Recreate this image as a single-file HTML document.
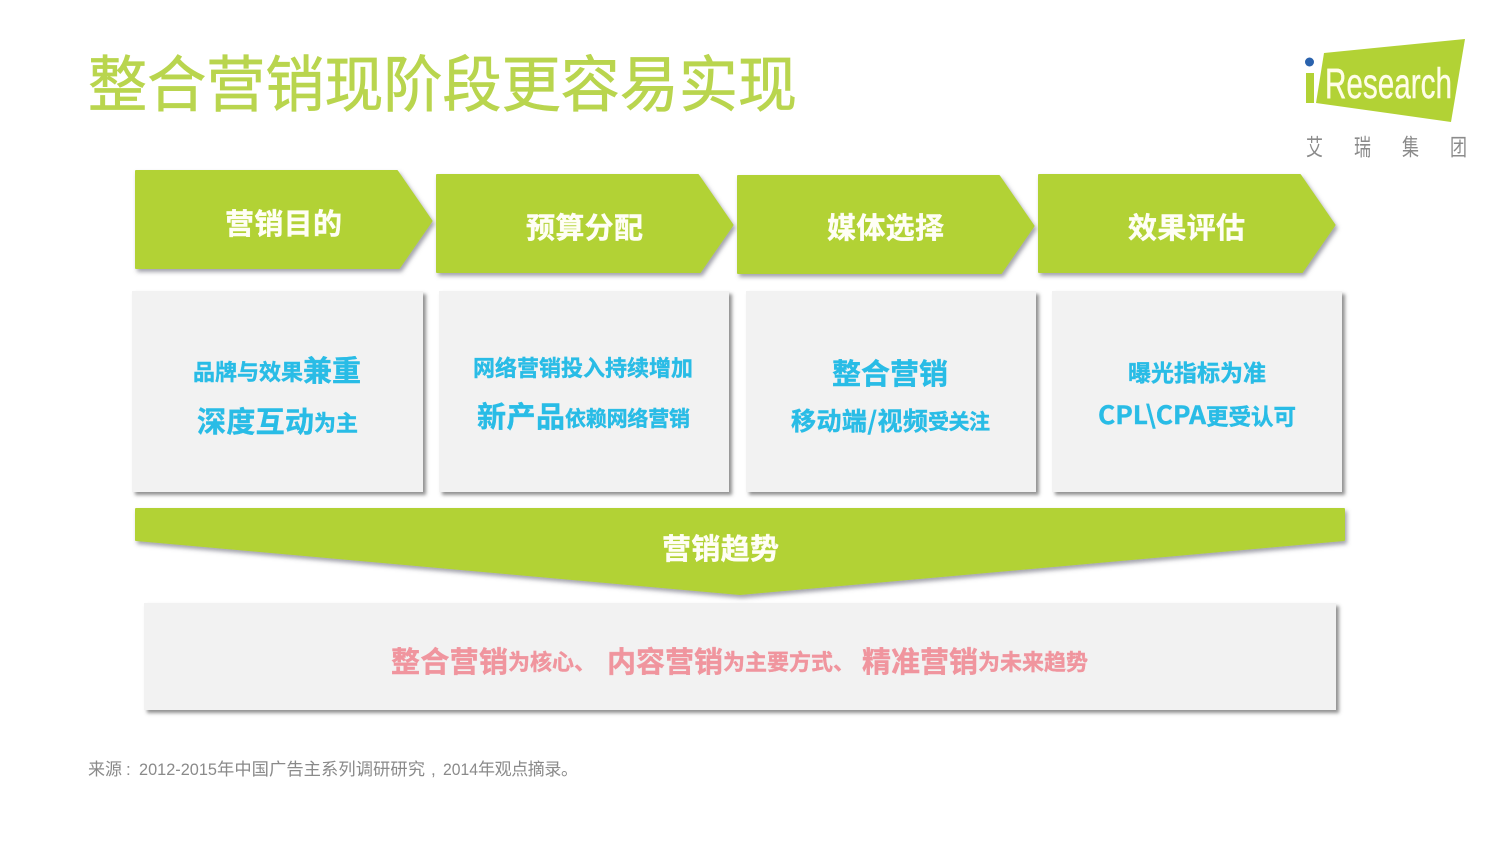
<!DOCTYPE html>
<html lang="zh"><head><meta charset="utf-8"><title>整合营销现阶段更容易实现</title>
<style>
html,body{margin:0;padding:0;background:#fff}
svg{display:block}
text{font-family:"Liberation Sans","Noto Sans CJK SC",sans-serif;white-space:pre}
.n{font-family:"Noto Sans CJK SC",sans-serif}
.w{fill:#fffef5;font-weight:700;font-size:29px;stroke:#fffef5;stroke-width:.4}
.c{fill:#29bce6;font-weight:700;stroke:#29bce6;stroke-width:.4}
.p{fill:#f0959e;font-weight:700;stroke:#f0959e;stroke-width:.4}
.f{fill:#8a8a8a}
</style></head><body>
<svg width="1500" height="844" viewBox="0 0 1500 844" xmlns="http://www.w3.org/2000/svg">
<defs>
<filter id="s" x="-5%" y="-10%" width="110%" height="125%"><feDropShadow dx="2" dy="3" stdDeviation="2" flood-color="#556" flood-opacity=".55"/></filter>
<filter id="g" x="-5%" y="-10%" width="110%" height="125%"><feDropShadow dx="3" dy="3" stdDeviation="1.800" flood-color="#555" flood-opacity=".65"/></filter>
</defs>
<rect width="1500" height="844" fill="#fff"/>

<text x="88" y="106" font-size="61" fill="#b9d54e" stroke="#b9d54e" stroke-width=".7" textLength="709" lengthAdjust="spacingAndGlyphs">整合营销现阶段更容易实现</text>

<!-- logo -->
<polygon points="1324,53 1465,39 1451,122 1316,103" fill="#b2d235"/>
<rect x="1306" y="73" width="8" height="30" fill="#b2d235"/>
<circle cx="1309.500" cy="62" r="4.500" fill="#2a62ad"/>
<text x="1325" y="98" font-size="43" fill="#fffde8" stroke="#fffde8" stroke-width=".4" textLength="127" lengthAdjust="spacingAndGlyphs">Research</text>
<g font-size="23" fill="#8b8b8b">
<text x="1306" y="155" textLength="17" lengthAdjust="spacingAndGlyphs">艾</text>
<text x="1354" y="155" textLength="17" lengthAdjust="spacingAndGlyphs">瑞</text>
<text x="1402" y="155" textLength="17" lengthAdjust="spacingAndGlyphs">集</text>
<text x="1450" y="155" textLength="17" lengthAdjust="spacingAndGlyphs">团</text>
</g>

<!-- chevrons -->
<g fill="#b2d235" filter="url(#s)" stroke="#b2d235" stroke-width="2" stroke-linejoin="round">
<polygon points="136,171 397,171 431.500,221 399,268 136,268"/>
<polygon points="437,175 698,175 732.500,225 700,272 437,272"/>
<polygon points="738,176 999,176 1033.500,226 1001,273 738,273"/>
<polygon points="1039,175 1300,175 1334.500,225 1302,272 1039,272"/>
</g>
<text class="w" x="225" y="234" textLength="117">营销目的</text>
<text class="w" x="526" y="238" textLength="117">预算分配</text>
<text class="w" x="827" y="238" textLength="117">媒体选择</text>
<text class="w" x="1128" y="238" textLength="117">效果评估</text>

<!-- boxes -->
<g fill="#f2f2f2" filter="url(#g)">
<rect x="132" y="291" width="291" height="201"/>
<rect x="439" y="291" width="290" height="201"/>
<rect x="746" y="291" width="290" height="201"/>
<rect x="1052" y="291" width="290" height="201"/>
</g>

<text class="c" x="193" y="380" font-size="22" textLength="110">品牌与效果</text>
<text class="c" x="303" y="381" font-size="29" textLength="58">兼重</text>
<text class="c" x="197" y="432" font-size="29" textLength="117">深度互动</text>
<text class="c" x="314" y="431" font-size="22" textLength="44">为主</text>

<text class="c" x="473" y="376" font-size="22" textLength="220">网络营销投入持续增加</text>
<text class="c" x="477" y="427" font-size="29" textLength="88">新产品</text>
<text class="c" x="565" y="426" font-size="21" textLength="125">依赖网络营销</text>

<text class="c" x="832" y="384" font-size="29" textLength="116">整合营销</text>
<text class="c n" x="791" y="430" font-size="25" textLength="137">移动端/视频</text>
<text class="c" x="928" y="429" font-size="21" textLength="62">受关注</text>

<text class="c" x="1128" y="381" font-size="23" textLength="138">曝光指标为准</text>
<text class="c n" x="1098" y="424" font-size="25" textLength="108" lengthAdjust="spacingAndGlyphs">CPL\CPA</text>
<text class="c" x="1206" y="425" font-size="22.500" textLength="90">更受认可</text>

<!-- banner -->
<polygon points="136,509 1344,509 1344,540 740,594 136,540" fill="#b2d235" stroke="#b2d235" stroke-width="2" stroke-linejoin="round" filter="url(#s)"/>
<text class="w" x="662" y="559" textLength="117">营销趋势</text>

<!-- bottom box -->
<rect x="144" y="603" width="1192" height="107" fill="#f2f2f2" filter="url(#g)"/>
<text class="p" x="391" y="672" font-size="29" textLength="117">整合营销</text>
<text class="p" x="508" y="670" font-size="22" textLength="88">为核心、</text>
<text class="p" x="607" y="672" font-size="29" textLength="116">内容营销</text>
<text class="p" x="723" y="670" font-size="22" textLength="132">为主要方式、</text>
<text class="p" x="862" y="672" font-size="29" textLength="116">精准营销</text>
<text class="p" x="978" y="670" font-size="22" textLength="110">为未来趋势</text>

<text class="f" x="88" y="775" font-size="17" textLength="34">来源</text>
<text class="f" x="126" y="775" font-size="17">:</text>
<text class="f" x="139" y="775" font-size="17" textLength="78" lengthAdjust="spacingAndGlyphs">2012-2015</text>
<text class="f" x="217" y="775" font-size="17.300" textLength="208">年中国广告主系列调研研究</text>
<text class="f" x="431" y="775" font-size="17">,</text>
<text class="f" x="443" y="775" font-size="17" textLength="35" lengthAdjust="spacingAndGlyphs">2014</text>
<text class="f" x="478" y="775" font-size="17" textLength="100">年观点摘录。</text>
</svg>
</body></html>
